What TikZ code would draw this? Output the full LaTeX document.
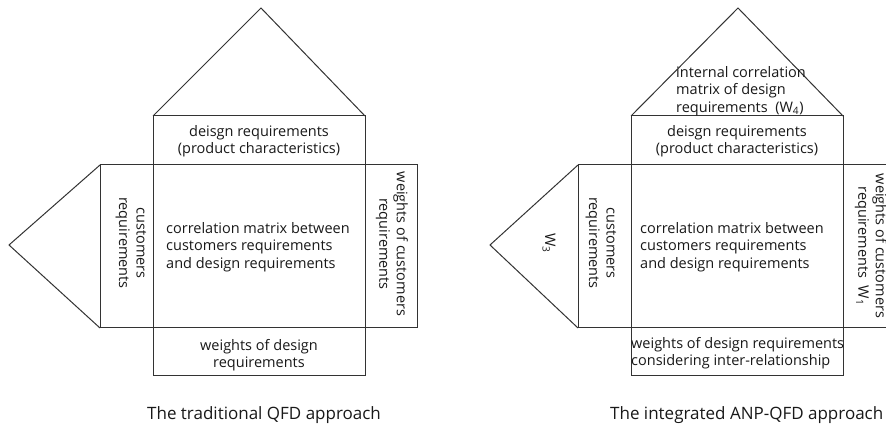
\documentclass[tikz,border=0pt]{standalone}
\usepackage{fontspec}
\setmainfont{Open Sans}
\begin{document}
\begin{tikzpicture}[x=1pt,y=-1pt]
\tikzset{
  edge/.style={draw=black!80, line width=1pt, line join=miter},
  lbl/.style={font=\fontsize{14.5}{17.5}\selectfont, align=center, inner sep=0pt, text=black!90},
  lbll/.style={lbl, align=left, anchor=west},
  captext/.style={font=\fontsize{17}{20}\selectfont, inner sep=0pt, text=black!90}
}
\useasboundingbox (0,0) rectangle (886,427);
\clip (0,0) rectangle (886,427);
\fill[white] (0,0) rectangle (886,427);

% ---------- left house ----------
\coordinate (La) at (261,8);
\coordinate (Lt) at (9,245);
\draw[edge] (100,165) rectangle (417,328);
\draw[edge] (153,116) rectangle (365,376);
\draw[edge] (153,116) -- (La) -- (365,116);
\draw[edge] (100,165) -- (Lt) -- (100,328);

\node[lbl] (Ldr) at (259,141) {deisgn requirements\\(product characteristics)};
\node[lbl, rotate=-90] (Lcr) at (131,243) {customers\\requirements};
\node[lbll] (Lcm) at (166,247) {correlation matrix between\\customers requirements\\and design requirements};
\node[lbl, rotate=-90] (Lwc) at (392,244) {weights of customers\\requirements};
\node[lbl] (Lwd) at (259,355) {weights of design\\requirements};
\node[captext, anchor=west] (Lcap) at (147,415) {The traditional QFD approach};

% ---------- right house ----------
\coordinate (Ra) at (738,8);
\coordinate (Rt) at (490,245);
\draw[edge] (578,165) rectangle (895,328);
\draw[edge] (631,116) rectangle (843,376);
\draw[edge] (631,116) -- (Ra) -- (843,116);
\draw[edge] (578,165) -- (Rt) -- (578,328);

\node[lbll] (Rroof) at (676,91) {internal correlation\\matrix of design\\requirements~~(W\textsubscript{4})};
\node[lbl] (Rdr) at (737,141) {deisgn requirements\\(product characteristics)};
\node[lbl, rotate=-90] (Rw3) at (549,243) {W\textsubscript{3}};
\node[lbl, rotate=-90] (Rcr) at (601,243) {customers\\requirements};
\node[lbll] (Rcm) at (640,247) {correlation matrix between\\customers requirements\\and design requirements};
\node[lbl, rotate=-90] (Rwc) at (871,246) {weights of customers\\requirements~~W\textsubscript{1}};
\node[lbll] (Rwd) at (631,353) {weights of design requirements\\considering inter-relationship};
\node[captext, anchor=west] (Rcap) at (610,415) {The integrated ANP-QFD approach};
\end{tikzpicture}
\end{document}
